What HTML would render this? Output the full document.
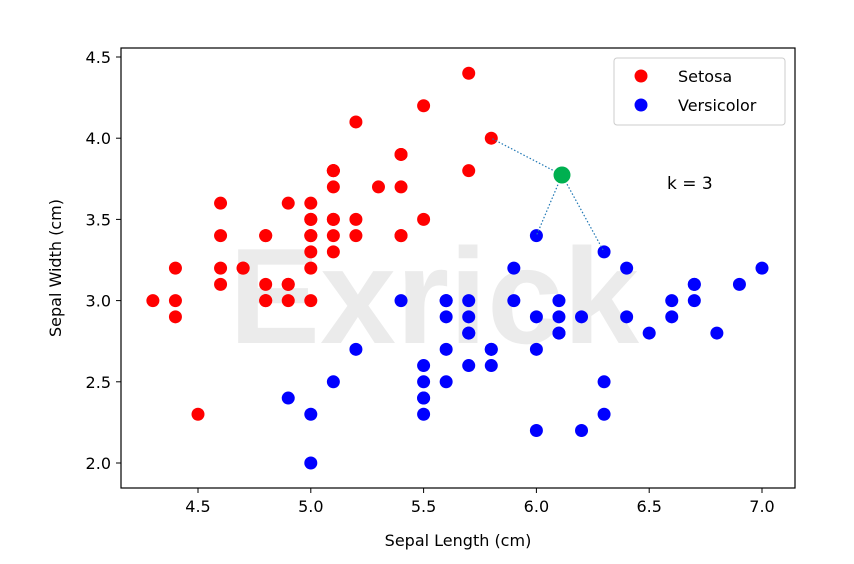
<!DOCTYPE html>
<html><head><meta charset="utf-8"><style>
html,body{margin:0;padding:0;background:#fff;}
svg{display:block;font-family:"DejaVu Sans","Liberation Sans",sans-serif;}
</style></head><body>
<svg id="s" width="854" height="564" xmlns="http://www.w3.org/2000/svg">
<rect width="854" height="564" fill="#fff"/>
<text x="434" y="343" font-size="136" font-weight="bold" fill="#ebebeb" text-anchor="middle" textLength="410" lengthAdjust="spacingAndGlyphs" font-family="Liberation Sans, sans-serif">Exrick</text>
<g id="pts"></g>
<rect x="121" y="48" width="674" height="440" fill="none" stroke="#000" stroke-width="1.2"/>
<g id="ticks" font-size="16" fill="#000"></g>
<text x="458" y="546" font-size="16" text-anchor="middle">Sepal Length (cm)</text>
<text transform="translate(61,268) rotate(-90)" font-size="16" text-anchor="middle">Sepal Width (cm)</text>
<text x="667" y="189" font-size="17">k = 3</text>
<rect x="614" y="58" width="171" height="67" fill="#fff" fill-opacity="0.85" stroke="#ccc" rx="3"/>
<circle cx="641" cy="76" r="6.5" fill="#f00"/>
<circle cx="641" cy="105" r="6.5" fill="#00f"/>
<text x="678" y="82" font-size="16">Setosa</text>
<text x="678" y="111" font-size="16">Versicolor</text>
</svg>
<script>
var X=function(v){return 198+(v-4.5)*225.6},Y=function(v){return 463-(v-2)*162.4};
var ns="http://www.w3.org/2000/svg";
function el(t,a,p){var e=document.createElementNS(ns,t);for(var k in a)e.setAttribute(k,a[k]);(p||document.getElementById('pts')).appendChild(e);return e;}
var se=[5.1,3.5,4.9,3.0,4.7,3.2,4.6,3.1,5.0,3.6,5.4,3.9,4.6,3.4,5.0,3.4,4.4,2.9,4.9,3.1,5.4,3.7,4.8,3.4,4.8,3.0,4.3,3.0,5.8,4.0,5.7,4.4,5.4,3.9,5.1,3.5,5.7,3.8,5.1,3.8,5.4,3.4,5.1,3.7,4.6,3.6,5.1,3.3,4.8,3.4,5.0,3.0,5.0,3.4,5.2,3.5,5.2,3.4,4.7,3.2,4.8,3.1,5.4,3.4,5.2,4.1,5.5,4.2,4.9,3.1,5.0,3.2,5.5,3.5,4.9,3.6,4.4,3.0,5.1,3.4,5.0,3.5,4.5,2.3,4.4,3.2,5.0,3.5,5.1,3.8,4.8,3.0,5.1,3.8,4.6,3.2,5.3,3.7,5.0,3.3];
var ve=[7.0,3.2,6.4,3.2,6.9,3.1,5.5,2.3,6.5,2.8,5.7,2.8,6.3,3.3,4.9,2.4,6.6,2.9,5.2,2.7,5.0,2.0,5.9,3.0,6.0,2.2,6.1,2.9,5.6,2.9,6.7,3.1,5.6,3.0,5.8,2.7,6.2,2.2,5.6,2.5,5.9,3.2,6.1,2.8,6.3,2.5,6.1,2.8,6.4,2.9,6.6,3.0,6.8,2.8,6.7,3.0,6.0,2.9,5.7,2.6,5.5,2.4,5.5,2.4,5.8,2.7,6.0,2.7,5.4,3.0,6.0,3.4,6.7,3.1,6.3,2.3,5.6,3.0,5.5,2.5,5.5,2.6,6.1,3.0,5.8,2.6,5.0,2.3,5.6,2.7,5.7,3.0,5.7,2.9,6.2,2.9,5.1,2.5,5.7,2.8];
for(var i=0;i<se.length;i+=2)el('circle',{cx:X(se[i]),cy:Y(se[i+1]),r:6.5,fill:'#f00'});
for(var i=0;i<ve.length;i+=2)el('circle',{cx:X(ve[i]),cy:Y(ve[i+1]),r:6.5,fill:'#00f'});
[[5.8,4.0],[6.0,3.4],[6.3,3.3]].forEach(function(p){el('line',{x1:562,y1:175,x2:X(p[0]),y2:Y(p[1]),stroke:'#1f77b4','stroke-width':1.2,'stroke-dasharray':'1.5,2'});});
el('circle',{cx:562,cy:175,r:8.5,fill:'#00b050'});
var t=document.getElementById('ticks');
[4.5,5.0,5.5,6.0,6.5,7.0].forEach(function(v){var x=X(v);el('line',{x1:x,y1:488,x2:x,y2:493,stroke:'#000'},t);var e=el('text',{x:x,y:512,'text-anchor':'middle'},t);e.textContent=v.toFixed(1);});
[2.0,2.5,3.0,3.5,4.0,4.5].forEach(function(v){var y=Y(v);el('line',{x1:116,y1:y,x2:121,y2:y,stroke:'#000'},t);var e=el('text',{x:111,y:y+6,'text-anchor':'end'},t);e.textContent=v.toFixed(1);});
</script>
</body></html>
